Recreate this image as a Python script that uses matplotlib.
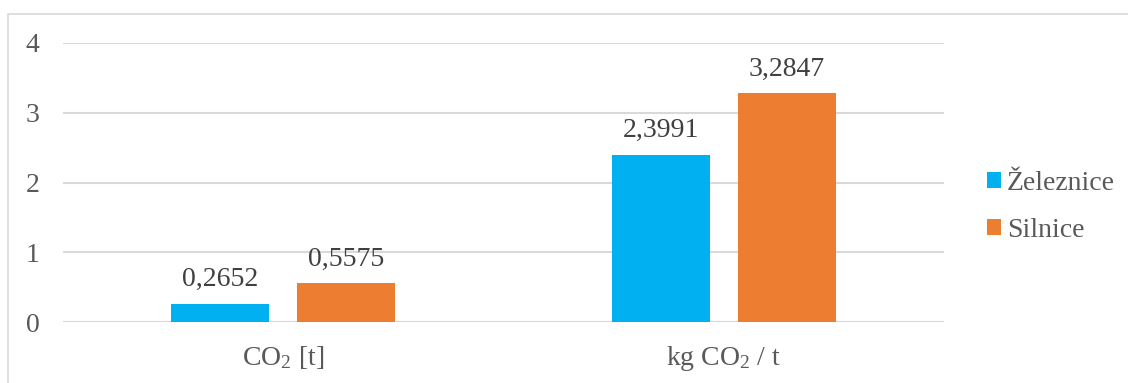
import matplotlib
matplotlib.use("Agg")
import matplotlib.pyplot as plt
import numpy as np
from matplotlib.patches import Rectangle

categories = [r"$\mathregular{CO_2}$ [t]", r"kg $\mathregular{CO_2}$ / t"]
series_names = ["Železnice", "Silnice"]
zeleznice = [0.2652, 2.3991]
silnice = [0.5575, 3.2847]
yticks = [0, 1, 2, 3, 4]

colors = ["#00b0f0", "#ed7d31"]
text_color = "#595959"
label_color = "#404040"
grid_color = "#d9d9d9"

plt.rcParams["font.family"] = ["Liberation Serif", "DejaVu Serif"]
plt.rcParams["mathtext.fontset"] = "custom"
plt.rcParams["mathtext.rm"] = "Liberation Serif"

fig = plt.figure(figsize=(11.28, 3.83), dpi=100)
ax = fig.add_axes([63 / 1128, 1 - 322 / 383, (944 - 63) / 1128, (322 - 43) / 383])

# outer chart frame (left and top edges)
fig.patches.append(Rectangle((8 / 1128, -0.1), 1.2, 1 - 14 / 383 + 0.1,
                             transform=fig.transFigure, fill=False,
                             edgecolor=grid_color, linewidth=1.2))

x = np.arange(len(categories))
width = 0.2225
offset = (width + 28 / 440.5) / 2

for vals, name, col, off in [(zeleznice, series_names[0], colors[0], -offset),
                             (silnice, series_names[1], colors[1], offset)]:
    bars = ax.bar(x + off, vals, width, color=col, label=name, zorder=3)
    for b, v in zip(bars, vals):
        ax.annotate(f"{v:.4f}".replace(".", ","),
                    (b.get_x() + b.get_width() / 2, v),
                    xytext=(0, 12.5), textcoords="offset points",
                    ha="center", va="baseline", fontsize=20, color=label_color)

ax.set_xlim(-0.5, 1.5)
ax.set_ylim(0, 4)
ax.set_yticks(yticks)
ax.set_yticklabels([str(t) for t in yticks])
ax.set_xticks(x)
ax.set_xticklabels(categories)
ax.tick_params(axis="both", length=0, labelsize=20, colors=text_color)
ax.tick_params(axis="y", pad=17)
ax.tick_params(axis="x", pad=16)
ax.grid(axis="y", color=grid_color, linewidth=1.5, zorder=0)
for s in ax.spines.values():
    s.set_visible(False)

leg = fig.legend(loc="center left", bbox_to_anchor=(987 / 1128, 1 - 207 / 383),
                 frameon=False, fontsize=20, handlelength=0.5, handleheight=0.5,
                 handletextpad=0.22, labelspacing=0.78, labelcolor=text_color,
                 borderpad=0, borderaxespad=0)

fig.savefig("out.png", dpi=100, facecolor="white")
